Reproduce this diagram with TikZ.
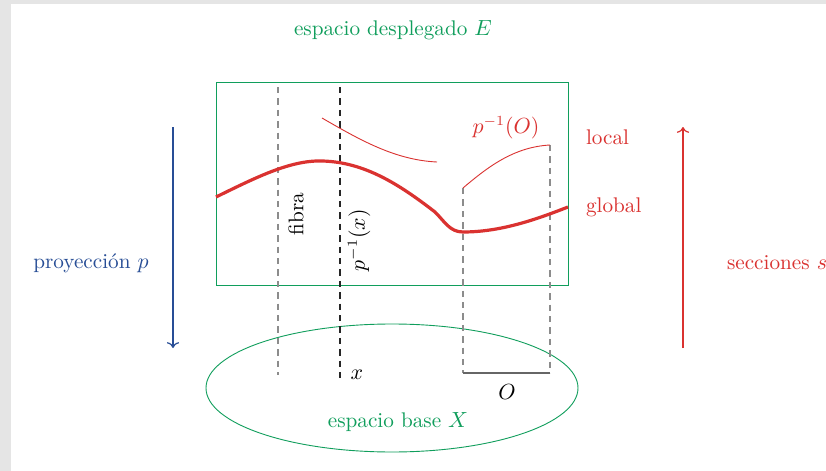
\documentclass[tikz,border=0pt]{standalone}
\usepackage{tikz}
\usetikzlibrary{positioning, arrows.meta, shapes.geometric}

\definecolor{espgreen}{RGB}{16,158,92}
\definecolor{secred}{RGB}{218,50,48}
\definecolor{proyblue}{RGB}{40,78,150}

\begin{document}
\begin{tikzpicture}[
    x=0.5pt, y=-0.5pt,
    >=To,
    every node/.style={font=\fontsize{10.6}{12.7}\selectfont},
    space/.style={draw=espgreen, line width=0.45pt},
    spacelabel/.style={text=espgreen},
    fibre/.style={draw=black!45, dash pattern=on 3.2pt off 2.5pt, line width=0.6pt},
    fibrex/.style={draw=black!85, dash pattern=on 3.2pt off 2.5pt, line width=0.8pt},
    section/.style={draw=secred, line width=0.45pt},
    globalsec/.style={draw=secred, line width=1.6pt},
    redlabel/.style={text=secred},
    maparrow/.style={->, line width=0.6pt}
]
  \useasboundingbox (0,0) rectangle (826,471);
  \fill[black!10] (0,0) rectangle (826,471);
  \fill[white] (11,4) rectangle (826,471);

  % --- Espacio desplegado (arriba) ---
  \node[spacelabel] (Etitle) at (393,30) {espacio desplegado $E$};
  \draw[space] (216,82) rectangle (568,285);

  % --- Espacio base (abajo) ---
  \node[space, ellipse, minimum width=186pt, minimum height=64pt, inner sep=0pt]
    (base) at (392,388) {};
  \node[spacelabel] (Xlabel) at (398,422) {espacio base $X$};

  % --- Fibras ---
  \coordinate (fibtop) at (278,87);
  \coordinate (fibbot) at (278,375);
  \coordinate (xtop) at (340,87);
  \coordinate (xbot) at (340,380);
  \coordinate (Otopl) at (463,188);
  \coordinate (Obotl) at (463,373);
  \coordinate (Otopr) at (550,145);
  \coordinate (Obotr) at (550,373);
  \draw[fibre] (fibtop) -- (fibbot);
  \draw[fibrex] (xtop) -- (xbot);
  \draw[fibre] (Otopl) -- (Obotl);
  \draw[fibre] (Otopr) -- (Obotr);
  \draw[draw=black!60, line width=0.6pt] (Obotl) -- (Obotr);

  \node[rotate=90] (fibra) at (296,214) {fibra};
  \node[rotate=90] (preimx) at (359,240) {$p^{-1}(x)$};
  \node (xlabel) at (357,375) {$x$};
  \node (Olabel) at (507,392) {$O$};

  % --- Secciones ---
  \draw[globalsec] (216,197) .. controls (255,178) and (290,160) .. (322,161)
    .. controls (365,162) and (400,185) .. (435,212)
    .. controls (445,222) and (450,232) .. (463,232)
    .. controls (500,232) and (535,220) .. (568,207);
  \draw[section] (322,118) .. controls (360,140) and (395,160) .. (437,162);
  \draw[section] (463,188) .. controls (490,165) and (515,147) .. (550,145);

  \node[redlabel] (preimO) at (506,128) {$p^{-1}(O)$};
  \node[redlabel, anchor=west] (local) at (579,137) {local};
  \node[redlabel, anchor=west] (global) at (579,207) {global};

  % --- Proyeccion y secciones ---
  \coordinate (ptop) at (173,127);
  \coordinate (pbot) at (173,348);
  \draw[maparrow, draw=proyblue] (ptop) -- (pbot);
  \node[text=proyblue] (proy) at (91,263) {proyección $p$};

  \coordinate (sbot) at (683,348);
  \coordinate (stop) at (683,127);
  \draw[maparrow, draw=secred] (sbot) -- (stop);
  \node[redlabel, anchor=west] (secc) at (720,263) {secciones $s$};
\end{tikzpicture}
\end{document}
